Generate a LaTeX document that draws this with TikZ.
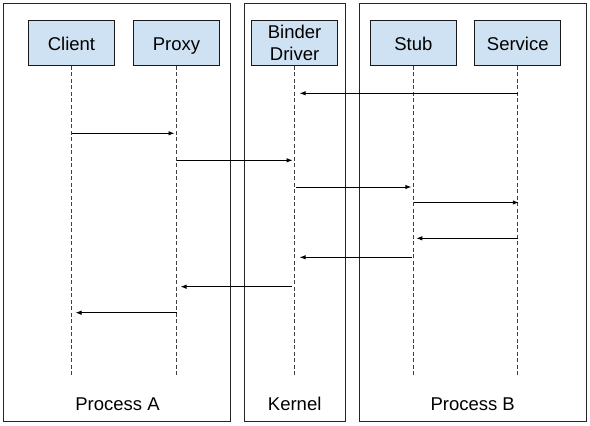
\documentclass[tikz,border=0pt]{standalone}
\usepackage{fontspec}
\setmainfont{Liberation Sans}
\usetikzlibrary{arrows.meta}
\definecolor{boxblue}{HTML}{CFE2F3}
\begin{document}
\begin{tikzpicture}[x=1pt,y=-1pt,
  region/.style={draw=black!85, line width=1pt, inner sep=0pt},
  actor/.style={draw=black!90, fill=boxblue, line width=1pt, minimum width=86pt, minimum height=45pt, inner sep=0pt, font=\fontsize{18.5}{21.5}\selectfont, align=center},
  oneline/.style={text height=15pt, text depth=0pt},
  lbl/.style={font=\fontsize{18.5}{21.5}\selectfont, inner sep=0pt, text height=13.3pt, text depth=0pt},
  life/.style={draw=black!75, line width=0.9pt, dash pattern=on 4pt off 2.5pt},
  msg/.style={draw=black, line width=0.9pt, -{Latex[length=6pt,width=4.5pt]}}]
\useasboundingbox (0,0) rectangle (590,426);
% process regions
\node[region, minimum width=226.7pt, minimum height=418.4pt] (procA) at (116.7,212.5) {};
\node[region, minimum width=100.7pt, minimum height=418.4pt] (kern) at (294.7,212.5) {};
\node[region, minimum width=226.7pt, minimum height=418.4pt] (procB) at (472.7,212.5) {};
\node[lbl] (lA) at (117.5,403.5) {Process A};
\node[lbl] (lK) at (294.7,403.5) {Kernel};
\node[lbl] (lB) at (472.7,403.5) {Process B};
% actors
\node[actor, oneline] (client) at (71.5,42.8) {Client};
\node[actor, oneline] (proxy) at (176.5,42.8) {Proxy};
\node[actor] (binder) at (294.6,42.8) {Binder\\Driver};
\node[actor, oneline] (stub) at (413.3,42.8) {Stub};
\node[actor, oneline] (service) at (517.8,42.8) {Service};
% lifelines
\foreach \n in {client,proxy,binder,stub,service}{
  \coordinate (\n end) at (\n.south |- 0,376);
  \draw[life] (\n.south) -- (\n end);
}
% messages
\draw[msg] (service.south |- 0,93.3) -- ([xshift=5pt]binder.south |- 0,93.3);
\draw[msg] (client.south |- 0,133.3) -- ([xshift=-2pt]proxy.south |- 0,133.3);
\draw[msg] (proxy.south |- 0,160.3) -- ([xshift=-2pt]binder.south |- 0,160.3);
\draw[msg] ([xshift=1pt]binder.south |- 0,187) -- ([xshift=-2pt]stub.south |- 0,187);
\draw[msg] ([xshift=1pt]stub.south |- 0,202.5) -- ([xshift=1pt]service.south |- 0,202.5);
\draw[msg] (service.south |- 0,238.3) -- ([xshift=3pt]stub.south |- 0,238.3);
\draw[msg] ([xshift=-1.5pt]stub.south |- 0,257.3) -- ([xshift=5pt]binder.south |- 0,257.3);
\draw[msg] ([xshift=-3pt]binder.south |- 0,286.7) -- ([xshift=4pt]proxy.south |- 0,286.7);
\draw[msg] (proxy.south |- 0,312.7) -- ([xshift=4pt]client.south |- 0,312.7);
\end{tikzpicture}
\end{document}
